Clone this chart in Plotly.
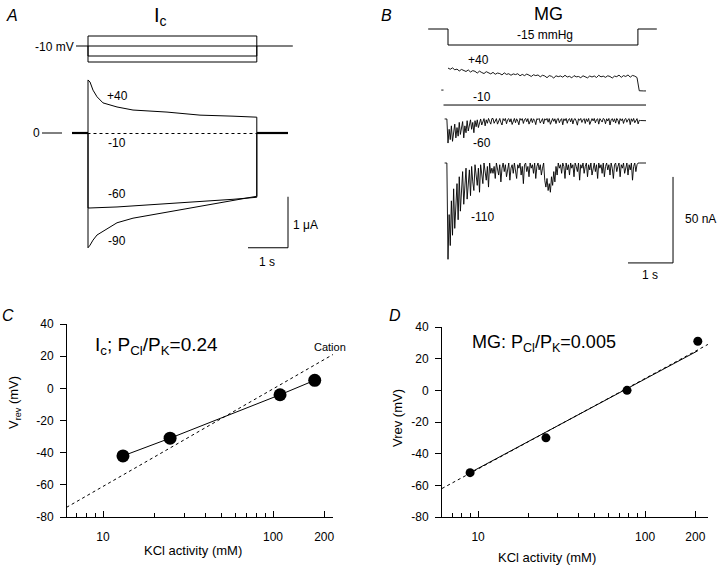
import plotly.graph_objects as go

W, H = 720, 567
FONT = "Liberation Sans, Arial, Helvetica, sans-serif"

# ---------------- Panel A data (I_c, two-electrode currents) ----------------
A_STEP_MV = [40, -60, -90]          # voltage steps drawn in protocol (+ holding -10)
A_HOLD_MV = -10
A_PULSE_S = 4.22
A_T = [0, 0.05, 0.125, 0.225, 0.375, 0.725, 1.125, 1.975, 2.8, 3.625, 4.22]
A_I_P40 = [1.04, 1.0, 0.84, 0.71, 0.59, 0.51, 0.45, 0.41, 0.35, 0.33, 0.31]
A_I_M10 = [-0.01, -0.01, -0.01, -0.01, -0.01, -0.01, -0.01, -0.01, -0.01, -0.01, -0.01]
A_I_M60 = [-1.47, -1.47, -1.47, -1.46, -1.46, -1.45, -1.43, -1.39, -1.35, -1.30, -1.26]
A_I_M90 = [-2.25, -2.2, -2.1, -2.0, -1.93, -1.76, -1.67, -1.55, -1.43, -1.31, -1.24]
A_LABELS = ["+40", "-10", "-60", "-90"]

# ---------------- Panel B data (MG, patch currents) ----------------
B_PRESS_T = [-0.44, 0, 0, 4.22, 4.22, 4.64]
B_PRESS = [0, 0, -15, -15, 0, 0]
# +40 mV trace, sampled every 0.05 s from -0.15 s
B_P40_DT, B_P40_T0 = 0.05, -0.15
B_P40 = [0, 0, None,
         12.8, 12.1, 12.9, 11.8, 12.2, 11.1, 12.0, 11.4, 10.8, 11.7,
         10.5, 11.3, 10.9, 9.9, 11.0, 10.2, 9.6, 10.7, 10.1, 9.4,
         10.3, 9.2, 9.9, 9.6, 8.8, 10.0, 9.1, 9.5, 8.6, 9.4,
         9.0, 9.5, 8.3, 9.1, 8.4, 9.3, 8.7, 7.9, 8.9, 8.4,
         8.8, 7.7, 8.6, 8.2, 7.2, 8.4, 8.0, 7.0, 8.3, 7.8,
         8.2, 7.5, 8.6, 7.6, 8.0, 7.1, 8.4, 7.7, 7.9, 7.2,
         8.3, 7.9, 7.1, 8.2, 7.6, 8.2, 7.3, 8.6, 7.7, 8.1,
         7.4, 8.3, 7.9, 7.0, 8.1, 7.8, 8.7, 7.4, 8.4, 7.9,
         8.8, 7.5, 8.5, 8.1, 7.3, -0.4, -0.6, -0.5, -0.5]
B_M10_T = [-0.1, 4.4]
B_M10 = [0, 0]
# -60 and -110 mV traces, sampled every 0.025 s from -0.075 s
B_DT, B_T0 = 0.025, -0.075
B_M60 = [0, 0, 0,
         -14, -6, -12, -4, -13, -9, -3, -11, -5, -10,
         -2, -9, -6, -1.5, -11, -4, -8, -1, -7, -3,
         -0.5, -6, -2, -8, -1, -4.5, -0.5, -5, -2.5, 0,
         -3.5, -1, 0.2, -4, -0.5, -2.5, 0.3, -1.5, -3, 0.2,
         0.3, -2.5, -0.5, 0.2, -3, -1, 0.3, -2, -3.5, 0.2,
         -1, 0.3, -2.8, -0.4, 0.2, -1.8, 0.1, -3.2, -0.6, 0.3,
         -2.2, 0.1, -1.2, -3.4, 0.3, -0.8, 0.2, -2.6, -0.3, 0.3,
         -1.6, 0.2, -3.0, -0.5, 0.3, -2.1, 0.1, -0.9, -3.3, 0.2,
         -0.4, 0.3, -2.4, -1.1, 0.2, -2.9, 0.1, -0.7, 0.3, -1.9,
         0.2, -3.1, -0.5, 0.3, -1.4, 0.1, -2.7, -0.2, 0.3, -2.2,
         -0.6, 0.2, -3.4, 0.1, -1.0, 0.3, -2.5, -0.4, 0.2, -1.7,
         0.3, -2.9, -0.3, 0.2, -1.3, -3.6, 0.1, -0.8, 0.3, -2.0,
         -0.5, 0.2, -2.6, 0.1, -1.5, 0.3, -3.2, -0.6, 0.2, -1.1,
         0.3, -2.3, -0.4, 0.1, -3.0, 0.2, -0.9, -1.8, 0.3, -0.2,
         -2.8, 0.1, -1.2, 0.3, -3.5, -0.5, 0.2, -1.6, 0.1, -2.4,
         0.3, -0.7, -3.1, 0.2, -1.0, 0.1, -2.6, -0.3, 0.3, -1.9,
         -0.4, 0.2, -3.3, 0.1, -1.4, 0.3, -2.2, -0.6, 0.2, -2.9,
         -0.8, -0.9, -1.0, -1.0, -1.1, -1.0, -1.0]
B_M110 = [0, 0, 0,
          -56, -30, -48, -22, -42, -15, -38, -26, -12, -33,
          -8, -28, -18, -5, -24, -10, -3, -21, -14, -4,
          -19, -2, -11, -16, -1, -9, -13, -3, -17, -1,
          -7, -12, 0, -5, -10, -2, -14, 0, -6, -3,
          -6, -2, -9, 0, -4, -7, -1, -11, -3, 0,
          -5, -1, -8, -2, 0, -10, -3, -1, -6, 0,
          -4, -9, -1, -3, 0, -7, -2, -12, -1, 0,
          -5, -2, -8, 0, -3, -1, -6, 0, -9, -2,
          0, -4, -1, -7, -3, 0, -10, -14, -9, -16,
          -12, -17, -8, -13, -5, -11, -2, -7, 0, -3,
          -1, -6, 0, -2, -9, 0, -4, -1, -7, 0,
          -3, -1, -8, 0, -2, -5, 0, -10, -1, -3,
          0, -6, -2, 0, -8, -1, -4, 0, -7, -2,
          0, -5, -1, -9, 0, -3, -1, -6, 0, -8,
          -2, 0, -4, -1, -7, 0, -3, -9, -1, 0,
          -5, -2, 0, -8, -1, -3, 0, -6, -2, 0,
          -7, -1, -4, 0, -10, -2, 0, -5, -1, 0,
          0, 0, 0, 0, 0, 0, 0]
B_LABELS = ["+40", "-10", "-60", "-110"]

# ---------------- Panel C data (I_c reversal potentials) ----------------
C_KCL = [13.1, 24.8, 110, 176]
C_VREV = [-42, -31, -4, 5]
C_CATION_X = [6.1, 225]
C_CATION_Y = [-74, 21]

# ---------------- Panel D data (MG reversal potentials) ----------------
D_KCL = [8.96, 25.5, 78, 207]
D_VREV = [-52, -30, 0, 31]
D_FIT_X = [8.96, 207]
D_FIT_Y = [-52, 25]
D_CATION_X = [6.08, 238]
D_CATION_Y = [-62, 29]

V_TICKS = [40, 20, 0, -20, -40, -60, -80]
V_TICKTEXT = ["40", "20", "0", "-20", "-40", "-60", "-80"]
K_TICKS = [10, 100, 200]
K_TICKTEXT = ["10", "100", "200"]
K_MINOR = [7, 8, 9, 20, 30, 40, 50, 60, 70, 80, 90]

# ---------------- layout helpers ----------------
def xdom(a, b):
    return [a / W, b / W]


def ydom(top, bottom):
    return [1 - bottom / H, 1 - top / H]


def pxann(text, x, y, size=12, **kw):
    d = dict(text=text, x=x / W, y=1 - y / H, xref="paper", yref="paper",
             showarrow=False, font=dict(family=FONT, size=size, color="black"),
             xanchor="center", yanchor="middle")
    d.update(kw)
    return d


def times(vals, t0, dt):
    return [round(t0 + i * dt, 4) for i in range(len(vals))]


fig = go.Figure()
LINE = dict(color="black", width=1)

# ----- Panel A -----
pulse_end = A_T[-1]
for vals, dash in [(A_I_P40, None), (A_I_M10, "dot"), (A_I_M60, None), (A_I_M90, None)]:
    fig.add_trace(go.Scatter(x=[0] + A_T + [pulse_end], y=[0] + vals + [0], mode="lines",
                             line=dict(color="black", width=1, dash=dash),
                             xaxis="x", yaxis="y", hoverinfo="skip"))
fig.add_trace(go.Scatter(x=[-0.4, 0, None, pulse_end, 5.0], y=[0, 0, None, 0, 0], mode="lines",
                         line=dict(color="black", width=2.2), xaxis="x", yaxis="y"))
fig.add_trace(go.Scatter(x=[-0.3, 5.12], y=[A_HOLD_MV, A_HOLD_MV], mode="lines",
                         line=dict(color="black", width=1.2), xaxis="x", yaxis="y2"))
for v in A_STEP_MV:
    fig.add_trace(go.Scatter(x=[0, 0, A_PULSE_S, A_PULSE_S], y=[A_HOLD_MV, v, v, A_HOLD_MV],
                             mode="lines", line=LINE, xaxis="x", yaxis="y2"))
A_SB_X, A_SB_Y = 5.0, -2.25
fig.add_trace(go.Scatter(x=[A_SB_X - 1, A_SB_X, A_SB_X], y=[A_SB_Y, A_SB_Y, A_SB_Y + 1],
                         mode="lines", line=LINE, xaxis="x", yaxis="y"))

# ----- Panel B -----
fig.add_trace(go.Scatter(x=B_PRESS_T, y=B_PRESS, mode="lines", line=LINE, xaxis="x2", yaxis="y3"))
B_OFFSET = [42.4, 33.7, 25.6, 0.0]
for vals, off, t0, dt in [(B_P40, B_OFFSET[0], B_P40_T0, B_P40_DT),
                          (B_M60, B_OFFSET[2], B_T0, B_DT),
                          (B_M110, B_OFFSET[3], B_T0, B_DT)]:
    fig.add_trace(go.Scatter(x=times(vals, t0, dt),
                             y=[None if v is None else v + off for v in vals],
                             mode="lines", line=dict(color="black", width=0.9),
                             connectgaps=False, xaxis="x2", yaxis="y4"))
fig.add_trace(go.Scatter(x=B_M10_T, y=[v + B_OFFSET[1] for v in B_M10], mode="lines",
                         line=LINE, xaxis="x2", yaxis="y4"))
B_SB_X, B_SB_Y = 5.0, -58.1
fig.add_trace(go.Scatter(x=[B_SB_X - 1, B_SB_X, B_SB_X], y=[B_SB_Y, B_SB_Y, B_SB_Y + 50],
                         mode="lines", line=LINE, xaxis="x2", yaxis="y4"))

# ----- Panel C -----
fig.add_trace(go.Scatter(x=C_CATION_X, y=C_CATION_Y, mode="lines",
                         line=dict(color="black", width=1, dash="3px,3px"), xaxis="x3", yaxis="y5"))
fig.add_trace(go.Scatter(x=C_KCL, y=C_VREV, mode="lines+markers", line=LINE,
                         marker=dict(color="black", size=13), xaxis="x3", yaxis="y5"))

# ----- Panel D -----
fig.add_trace(go.Scatter(x=D_CATION_X, y=D_CATION_Y, mode="lines",
                         line=dict(color="black", width=1, dash="3px,3px"), xaxis="x4", yaxis="y6"))
fig.add_trace(go.Scatter(x=D_FIT_X, y=D_FIT_Y, mode="lines", line=LINE, xaxis="x4", yaxis="y6"))
fig.add_trace(go.Scatter(x=D_KCL, y=D_VREV, mode="markers",
                         marker=dict(color="black", size=9), xaxis="x4", yaxis="y6"))

hidden = dict(visible=False, showgrid=False, zeroline=False, fixedrange=True, automargin=False)


def logx(dom, rng, anchor):
    return dict(type="log", domain=dom, range=rng, anchor=anchor, showline=True,
                linecolor="black", linewidth=1, ticks="inside", ticklen=6, tickcolor="black",
                tickvals=K_TICKS, ticktext=K_TICKTEXT, showgrid=False, zeroline=False,
                automargin=False,
                tickfont=dict(family=FONT, size=12, color="black"), ticklabelstandoff=9,
                minor=dict(tickvals=K_MINOR, ticks="inside", ticklen=4, tickcolor="black",
                           showgrid=False))


def vy(dom, anchor):
    return dict(domain=dom, range=[-80, 40], anchor=anchor, showline=True, linecolor="black",
                linewidth=1, ticks="outside", ticklen=6, tickcolor="black", automargin=False,
                tickvals=V_TICKS, ticktext=V_TICKTEXT, showgrid=False, zeroline=False,
                tickfont=dict(family=FONT, size=12, color="black"), ticklabelstandoff=4)


fig.update_layout(
    width=W, height=H, margin=dict(l=0, r=0, t=0, b=0, autoexpand=False),
    paper_bgcolor="white", plot_bgcolor="white", showlegend=False,
    font=dict(family=FONT, color="black"),
    xaxis=dict(domain=xdom(20, 320), range=[-1.7, 5.8], anchor="y", **hidden),
    yaxis=dict(domain=ydom(70, 290), range=[-3.078, 1.235], anchor="x", **hidden),
    yaxis2=dict(domain=ydom(25, 70), range=[-130, 95], anchor="x", **hidden),
    xaxis2=dict(domain=xdom(380, 720), range=[-1.511, 6.044], anchor="y3", **hidden),
    yaxis3=dict(domain=ydom(15, 55), range=[-24.375, 13.125], anchor="x2", **hidden),
    yaxis4=dict(domain=ydom(55, 290), range=[-73.84, 62.79], anchor="x2", **hidden),
    xaxis3=logx(xdom(67, 333), [0.788, 2.353], "y5"),
    yaxis5=vy(ydom(324, 517), "x3"),
    xaxis4=logx(xdom(442, 708), [0.784, 2.377], "y6"),
    yaxis6=vy(ydom(327, 517), "x4"),
)

anns = [
    pxann("<i>A</i>", 12, 15, 16),
    pxann("I<sub>c</sub>", 160, 16, 20),
    pxann("-10 mV", 76, 47, 12, xanchor="right"),
    pxann("0", 36, 133, 12),
    pxann("1 μA", 305, 225, 12),
    pxann("1 s", 267, 262, 12),
    pxann("<i>B</i>", 386, 15, 16),
    pxann("MG", 548, 14, 18),
    pxann("-15 mmHg", 545, 35, 12),
    pxann("50 nA", 700, 219, 12),
    pxann("1 s", 650, 275, 12),
    pxann("<i>C</i>", 8, 315, 16),
    pxann("<i>D</i>", 395, 315, 16),
    pxann("I<sub>c</sub>; P<sub>Cl</sub>/P<sub>K</sub>=0.24", 93, 346, 19, xanchor="left"),
    pxann("Cation", 330, 347, 11),
    pxann("MG: P<sub>Cl</sub>/P<sub>K</sub>=0.005", 470, 343, 18, xanchor="left"),
    pxann("V<sub>rev</sub> (mV)", 14, 403, 13, textangle=-90),
    pxann("Vrev (mV)", 397, 418, 13, textangle=-90),
    pxann("KCl activity (mM)", 193, 550, 13),
    pxann("KCl activity (mM)", 547, 557, 13),
]
for lab, (x, y) in zip(A_LABELS, [(117, 96), (117, 143), (117, 194), (117, 241)]):
    anns.append(pxann(lab, x, y, 12))
for lab, (x, y) in zip(B_LABELS, [(478, 60), (482, 97), (482, 143), (483, 217)]):
    anns.append(pxann(lab, x, y, 12))
fig.update_layout(annotations=anns)
fig.add_shape(type="line", xref="paper", yref="paper", x0=42 / W, x1=62 / W,
              y0=1 - 133 / H, y1=1 - 133 / H, line=dict(color="black", width=1))

fig.write_html("out.html", config={"displayModeBar": False},
               post_script="document.body.style.margin='0';document.body.style.overflow='hidden';")
